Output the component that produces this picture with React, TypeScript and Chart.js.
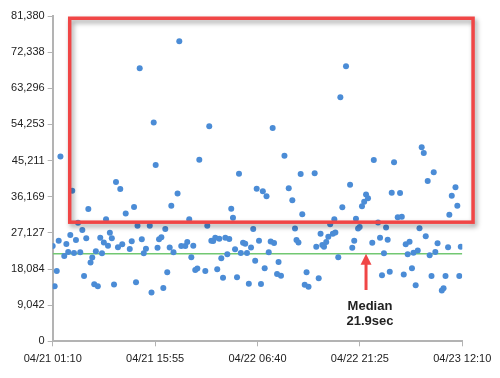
import React, { useEffect, useRef } from "react";
import { Chart, registerables } from "chart.js";

Chart.register(...registerables);

// X axis: minutes elapsed since 04/21 01:10
const xTickLabels = ["04/21 01:10", "04/21 15:55", "04/22 06:40", "04/22 21:25", "04/23 12:10"];
const xTickStepMin = 885;
const xMaxMin = 3540;

// Y axis: duration (ms)
const yTickValues = [0, 9042, 18084, 27127, 36169, 45211, 54253, 63296, 72338, 81380];
const yMax = 81380;

// Scatter points
const offsetsMin = [
  0, 17, 35, 52, 67, 100, 118, 134, 152, 169, 184, 201, 219, 238, 256, 271, 290, 308, 327, 342,
  359, 390, 373, 411, 426, 442, 461, 478, 494, 511, 530, 547, 564, 584, 601, 631, 666, 683, 703, 720,
  733, 752, 770, 787, 806, 839, 854, 873, 890, 906, 919, 939, 956, 973, 990, 1011, 1025, 1044, 1079, 1094,
  1111, 1146, 1163, 1180, 1198, 1215, 1232, 1250, 1267, 1319, 1336, 1353, 1371, 1387, 1405, 1422, 1440, 1457, 1472, 1492,
  1509, 1526, 1543, 1558, 1576, 1593, 1610, 1626, 1645, 1664, 1679, 1695, 1714, 1733, 1750, 1763, 1783, 1800, 1816, 1832,
  1848, 1867, 1884, 1901, 1913, 1939, 1952, 1973, 2003, 2040, 2071, 2094, 2107, 2124, 2143, 2157, 2178, 2194, 2211, 2264,
  2278, 2299, 2315, 2330, 2345, 2364, 2382, 2398, 2421, 2434, 2443, 2468, 2486, 2503, 2535, 2570, 2589, 2606, 2621, 2639,
  2653, 2673, 2692, 2708, 2725, 2762, 2775, 2812, 2829, 2846, 2863, 2881, 2895, 2913, 2930, 2950, 2982, 3002, 3017, 3034,
  3051, 3084, 3068, 3105, 3118, 3137, 3155, 3170, 3189, 3207, 3224, 3241, 3258, 3274, 3293, 3307, 3326, 3363, 3378, 3395,
  3417, 3428, 3449, 3481, 3497, 3514, 3527,
];
const durationsMs = [
  23844, 13761, 17589, 25170, 46237, 21342, 24344, 22343, 26596, 37680, 22093, 25345, 29674, 22293, 27847, 16338, 25771, 33101, 19716, 20967,
  14261, 13761, 22518, 25921, 22018, 24720, 30524, 23919, 27147, 25771, 14211, 39857, 23519, 38105, 24269, 31976, 23093, 25020, 33602, 14762,
  28923, 68305, 25520, 22018, 23169, 28923, 12210, 54744, 44110, 23394, 25520, 26021, 13336, 28097, 17264, 23469, 33927, 22293, 36980, 75060,
  23844, 23844, 24845, 30524, 21042, 23919, 17839, 18215, 45436, 17589, 28923, 53793, 25145, 25095, 25896, 18014, 25671, 20767, 15913, 25896,
  21767, 25595, 33152, 30900, 23018, 16013, 41909, 22093, 24670, 24395, 22093, 14412, 23469, 28097, 20141, 38181, 25170, 14336, 37530, 18265,
  36279, 22268, 24970, 53368, 24595, 16838, 19841, 16413, 46437, 38281, 35303, 28223, 25345, 24720, 41858, 31775, 14136, 17264, 13661, 42034,
  23669, 15763, 26897, 24094, 23669, 24845, 26146, 29273, 26897, 30524, 27222, 21017, 61049, 33552, 68805, 39181, 23419, 25145, 30675, 28223,
  28598, 33802, 34928, 36729, 35804, 24670, 45361, 29724, 25921, 16513, 22018, 28473, 25395, 17414, 37180, 44786, 31025, 37105, 31175, 16713,
  24294, 24920, 21767, 18265, 22168, 14011, 22718, 28298, 48539, 47113, 26271, 40107, 21542, 16338, 42284, 22343, 24545, 12710, 13261, 16338,
  23519, 31675, 36429, 38531, 33927, 16338, 23644,
];

// Median annotation
const medianMs = 21900;
const medianLabelLines = ["Median", "21.9sec"];
const arrowXMin = 2708;
const arrowTailMs = 12835;
const labelXMin = 2742;
const labelLineMs = [8832, 4904];

// Highlight box (data coordinates)
const highlightBox = { xMin: 147, xMax: 3633, yMin: 29800, yMax: 80815 };

const RED = "#f04646";
const AXIS_GRAY = "#b3b3b3";
const POINT_BLUE = "#4b8cd6";
const MEDIAN_GREEN = "#72c872";
const FONT = "'Liberation Sans', Arial, sans-serif";

const annotationPlugin = {
  id: "annotations",
  afterDatasetsDraw(chart: any) {
    const { ctx } = chart;
    const xs = chart.scales.x;
    const ys = chart.scales.y;

    // Highlight rectangle with drop shadow
    const left = xs.getPixelForValue(highlightBox.xMin);
    const right = xs.getPixelForValue(highlightBox.xMax);
    const top = ys.getPixelForValue(highlightBox.yMax);
    const bottom = ys.getPixelForValue(highlightBox.yMin);
    ctx.save();
    ctx.shadowColor = "rgba(0,0,0,0.38)";
    ctx.shadowBlur = 5;
    ctx.shadowOffsetX = 2;
    ctx.shadowOffsetY = 3;
    ctx.strokeStyle = RED;
    ctx.lineWidth = 3.5;
    ctx.strokeRect(left, top, right - left, bottom - top);
    ctx.restore();

    // Arrow pointing at the median line
    const ax = xs.getPixelForValue(arrowXMin);
    const tipY = ys.getPixelForValue(medianMs);
    const tailY = ys.getPixelForValue(arrowTailMs);
    const headH = 11;
    const headW = 11;
    ctx.save();
    ctx.strokeStyle = RED;
    ctx.fillStyle = RED;
    ctx.lineWidth = 3;
    ctx.beginPath();
    ctx.moveTo(ax, tailY);
    ctx.lineTo(ax, tipY + headH - 1);
    ctx.stroke();
    ctx.beginPath();
    ctx.moveTo(ax, tipY);
    ctx.lineTo(ax - headW / 2, tipY + headH);
    ctx.lineTo(ax + headW / 2, tipY + headH);
    ctx.closePath();
    ctx.fill();
    ctx.restore();

    // Label
    const lx = xs.getPixelForValue(labelXMin);
    ctx.save();
    ctx.fillStyle = "#222";
    ctx.font = `bold 13px ${FONT}`;
    ctx.textAlign = "center";
    ctx.textBaseline = "middle";
    medianLabelLines.forEach((line, i) => {
      ctx.fillText(line, lx, ys.getPixelForValue(labelLineMs[i]));
    });
    ctx.restore();
  },
};

export default function App() {
  const canvasRef = useRef<HTMLCanvasElement | null>(null);

  useEffect(() => {
    document.body.style.margin = "0";
    const canvas = canvasRef.current;
    if (!canvas) return;

    const points = offsetsMin.map((m, i) => ({ x: m, y: durationsMs[i] }));

    const chart = new Chart(canvas, {
      type: "scatter",
      data: {
        datasets: [
          {
            type: "scatter",
            data: points,
            backgroundColor: POINT_BLUE,
            borderWidth: 0,
            pointRadius: 3,
            pointHoverRadius: 3,
          } as any,
          {
            type: "line",
            data: [
              { x: 0, y: medianMs },
              { x: xMaxMin, y: medianMs },
            ],
            borderColor: MEDIAN_GREEN,
            borderWidth: 1.5,
            pointRadius: 0,
            fill: false,
          } as any,
        ],
      },
      options: {
        animation: false,
        responsive: false,
        devicePixelRatio: 1,
        layout: { padding: { top: 16, right: 37.7, bottom: 0, left: 0 } },
        plugins: { legend: { display: false }, tooltip: { enabled: false } },
        events: [],
        scales: {
          x: {
            type: "linear",
            min: 0,
            max: xMaxMin,
            afterBuildTicks: (scale: any) => {
              scale.ticks = xTickLabels.map((_, i) => ({ value: i * xTickStepMin }));
            },
            afterFit: (scale: any) => {
              scale.height = 36.7;
            },
            grid: { drawOnChartArea: false, drawTicks: true, tickLength: 5, color: AXIS_GRAY, lineWidth: 1 },
            border: { color: AXIS_GRAY, width: 2 },
            ticks: {
              autoSkip: false,
              maxRotation: 0,
              padding: 6,
              color: "#222",
              font: { family: FONT, size: 11 },
              callback: (v: any) => xTickLabels[Math.round(Number(v) / xTickStepMin)] ?? "",
            },
          },
          y: {
            type: "linear",
            min: 0,
            max: yMax,
            afterBuildTicks: (scale: any) => {
              scale.ticks = yTickValues.map((v) => ({ value: v }));
            },
            afterFit: (scale: any) => {
              scale.width = 52.7;
            },
            grid: { drawOnChartArea: false, drawTicks: true, tickLength: 5, color: AXIS_GRAY, lineWidth: 1 },
            border: { color: AXIS_GRAY, width: 2 },
            ticks: {
              autoSkip: false,
              padding: 3,
              color: "#222",
              font: { family: FONT, size: 11 },
              callback: (v: any) => Number(v).toLocaleString("en-US"),
            },
          },
        },
      },
      plugins: [annotationPlugin],
    } as any);

    return () => chart.destroy();
  }, []);

  return (
    <canvas
      ref={canvasRef}
      width={500}
      height={378}
      style={{ display: "block", width: 500, height: 378 }}
    />
  );
}
